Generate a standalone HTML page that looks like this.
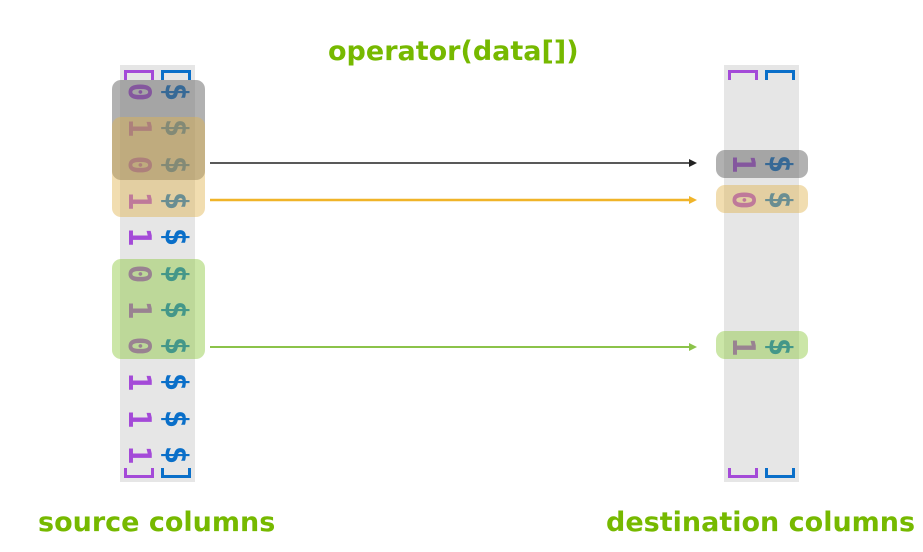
<!DOCTYPE html>
<html><head><style>
body{margin:0;width:923px;height:552px;background:#fff;position:relative;overflow:hidden;font-family:"DejaVu Sans",sans-serif}
.t{position:absolute;color:#76b900;font-weight:bold;font-size:27px;white-space:nowrap}
.col{position:absolute;background:#e6e6e6;top:65px;height:417px;width:75px}
.g{position:absolute;width:32px;height:32px;line-height:32px;text-align:center;font-weight:bold;font-size:31px;transform:rotate(90deg);font-family:"DejaVu Sans Mono",monospace}
.p{color:#a44ad8}.b{color:#0a6fc9}
.box{position:absolute;border-radius:9px}
.br{position:absolute;width:24px;height:7px;border:3px solid;border-bottom:none}
.bb{border-top:none;border-bottom:3px solid}
</style></head><body>
<div class="t" style="left:328px;top:36px">operator(data[])</div>
<div class="t" style="left:38px;top:507px">source columns</div>
<div class="t" style="left:606px;top:507px">destination columns</div>
<div class="col" style="left:120px"></div>
<div class="col" style="left:724px"></div>
<div class="br" style="left:124px;top:70px;border-color:#a44ad8"></div>
<div class="br" style="left:161px;top:70px;border-color:#0a6fc9"></div>
<div class="br bb" style="left:124px;top:468px;border-color:#a44ad8"></div>
<div class="br bb" style="left:161px;top:468px;border-color:#0a6fc9"></div>
<div class="br" style="left:728px;top:70px;border-color:#a44ad8"></div>
<div class="br" style="left:765px;top:70px;border-color:#0a6fc9"></div>
<div class="br bb" style="left:728px;top:468px;border-color:#a44ad8"></div>
<div class="br bb" style="left:765px;top:468px;border-color:#0a6fc9"></div>
<div id="src"></div>
<div class="g p" style="left:727px;top:148px">1</div><div class="g b" style="left:764px;top:148px">$</div>
<div class="g p" style="left:727px;top:184px">0</div><div class="g b" style="left:764px;top:184px">$</div>
<div class="g p" style="left:727px;top:331px">1</div><div class="g b" style="left:764px;top:331px">$</div>
<div class="box" style="left:112px;top:80px;width:93px;height:100px;background:rgba(100,100,100,.5)"></div>
<div class="box" style="left:112px;top:117px;width:93px;height:100px;background:rgba(225,180,80,.45)"></div>
<div class="box" style="left:112px;top:259px;width:93px;height:100px;background:rgba(140,200,60,.45)"></div>
<div class="box" style="left:716px;top:150px;width:92px;height:28px;background:rgba(100,100,100,.5)"></div>
<div class="box" style="left:716px;top:185px;width:92px;height:28px;background:rgba(225,180,80,.45)"></div>
<div class="box" style="left:716px;top:331px;width:92px;height:28px;background:rgba(140,200,60,.45)"></div>
<svg style="position:absolute;left:0;top:0" width="923" height="552">
<line x1="210" y1="163" x2="690" y2="163" stroke="#222" stroke-width="1.5"/><polygon points="697,163 689,159 689,167" fill="#222"/>
<line x1="210" y1="200" x2="690" y2="200" stroke="#f0b429" stroke-width="2.5"/><polygon points="697,200 689,196 689,204" fill="#f0b429"/>
<line x1="210" y1="347" x2="690" y2="347" stroke="#8bc34a" stroke-width="2"/><polygon points="697,347 689,343 689,351" fill="#8bc34a"/>
</svg>
<script>
var d="01011010111",h="";
for(var i=0;i<11;i++){var y=76+i*36.3;h+='<div class="g p" style="left:123px;top:'+y+'px">'+d[i]+'</div><div class="g b" style="left:160px;top:'+y+'px">$</div>';}
document.getElementById('src').innerHTML=h;
</script>
</body></html>
